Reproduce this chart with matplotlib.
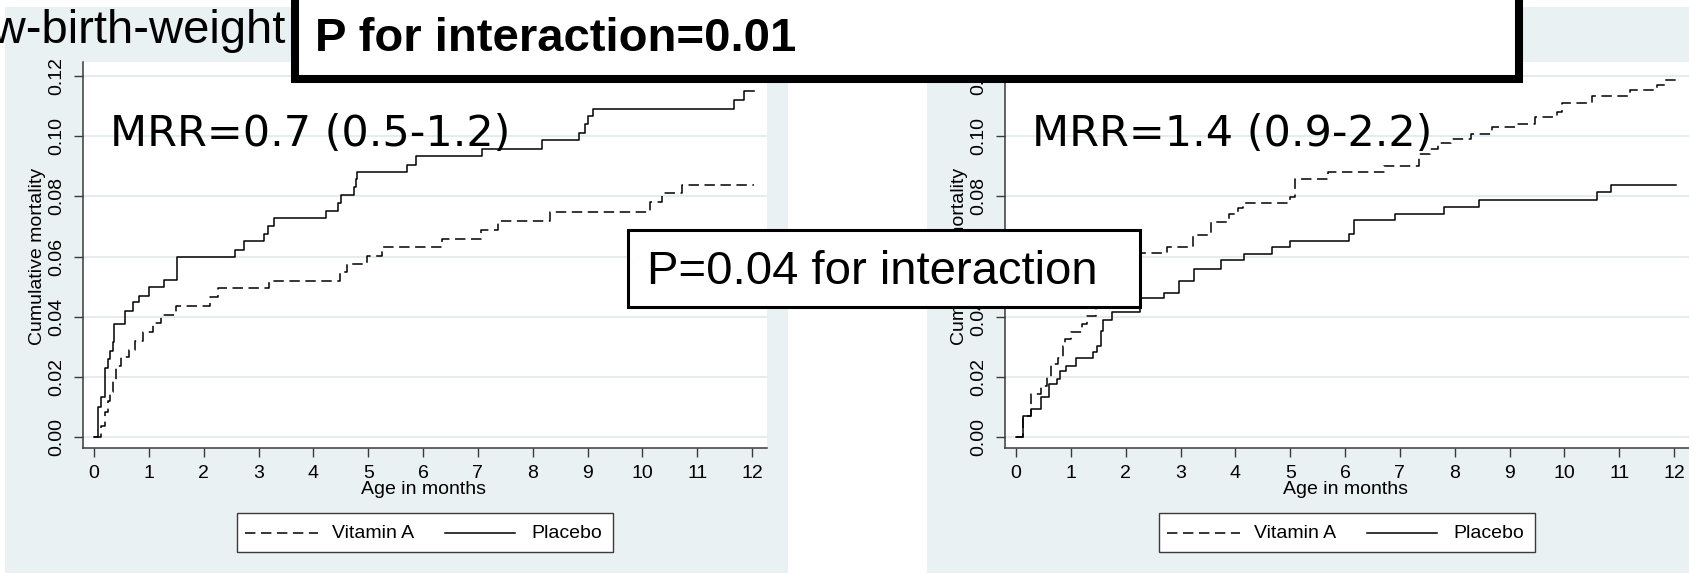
import matplotlib
matplotlib.use("Agg")
import matplotlib.pyplot as plt
from matplotlib.patches import Rectangle

plt.rcParams['font.family'] = ['Liberation Sans', 'DejaVu Sans']
plt.rcParams['lines.scale_dashes'] = False

W, H = 1690, 574

# Kaplan-Meier step data, age in months vs cumulative mortality
lbw_placebo_t = [0, 0.08, 0.13, 0.20, 0.25, 0.30, 0.34, 0.37, 0.56, 0.71, 0.82, 1.01, 1.28,
                 1.52, 2.58, 2.73, 3.10, 3.17, 3.28, 4.23, 4.45, 4.50, 4.74, 4.77, 4.80,
                 5.70, 5.88, 7.08, 8.16, 8.85, 8.95, 9.00, 9.10, 11.67, 11.85, 12.03]
lbw_placebo_y = [0, 0.0098, 0.0134, 0.023, 0.026, 0.0287, 0.0317, 0.0376, 0.042, 0.0448,
                 0.047, 0.050, 0.0522, 0.0598, 0.0623, 0.065, 0.0676, 0.0702, 0.0728,
                 0.0751, 0.0778, 0.0806, 0.083, 0.0857, 0.0881, 0.0906, 0.0933, 0.0958,
                 0.0987, 0.1012, 0.104, 0.1067, 0.1092, 0.112, 0.115, 0.115]

lbw_vita_t = [0, 0.13, 0.20, 0.25, 0.30, 0.35, 0.40, 0.49, 0.64, 0.74, 0.89, 1.08, 1.23,
              1.50, 2.11, 2.26, 3.20, 4.48, 4.62, 4.97, 5.26, 6.34, 7.06, 7.36, 8.31,
              10.13, 10.36, 10.72, 12.03]
lbw_vita_y = [0, 0.0037, 0.0083, 0.0118, 0.015, 0.019, 0.0237, 0.0267, 0.029, 0.032,
              0.035, 0.038, 0.0406, 0.0437, 0.0464, 0.0494, 0.0517, 0.0548, 0.0576,
              0.0603, 0.0631, 0.0659, 0.0689, 0.0718, 0.0748, 0.0781, 0.0811, 0.0839,
              0.0839]

nbw_vita_t = [0, 0.12, 0.27, 0.46, 0.56, 0.63, 0.76, 0.86, 0.89, 1.0, 1.2, 1.3, 1.45,
              1.55, 1.7, 1.85, 1.95, 2.05, 2.2, 2.75, 3.22, 3.56, 3.88, 4.04, 4.13, 4.99,
              5.09, 5.68, 6.71, 7.35, 7.55, 7.70, 7.94, 8.29, 8.68, 9.13, 9.47, 9.86,
              9.96, 10.50, 11.19, 11.68, 11.83, 12.03]
nbw_vita_y = [0, 0.007, 0.0142, 0.017, 0.0198, 0.0242, 0.0264, 0.0303, 0.0326, 0.0348,
              0.0376, 0.0403, 0.0435, 0.046, 0.049, 0.052, 0.055, 0.058, 0.0613, 0.0631,
              0.067, 0.0714, 0.0742, 0.0762, 0.0779, 0.0798, 0.0859, 0.0881, 0.0901,
              0.0942, 0.0959, 0.0976, 0.0992, 0.1009, 0.1031, 0.1042, 0.1064, 0.1081,
              0.1109, 0.1135, 0.1155, 0.117, 0.1187, 0.1187]

nbw_placebo_t = [0, 0.12, 0.27, 0.46, 0.61, 0.74, 0.81, 0.91, 1.10, 1.40, 1.48, 1.55,
                 1.59, 1.75, 2.26, 2.70, 2.97, 3.25, 3.74, 4.15, 4.67, 5.0, 6.07, 6.17,
                 6.91, 7.80, 8.44, 10.60, 10.85, 12.03]
nbw_placebo_y = [0, 0.007, 0.0092, 0.0133, 0.0176, 0.0192, 0.022, 0.0237, 0.0262, 0.0281,
                 0.0303, 0.0353, 0.039, 0.0415, 0.0462, 0.048, 0.052, 0.0559, 0.0587,
                 0.0609, 0.0631, 0.0653, 0.0676, 0.072, 0.0742, 0.0764, 0.0789, 0.0814,
                 0.0839, 0.0839]

series_labels = ["Vitamin A", "Placebo"]
mrr_labels = ["MRR=0.7 (0.5-1.2)", "MRR=1.4 (0.9-2.2)"]
title_left = "Low-birth-weight"
box_top_text = "P for interaction=0.01"
box_mid_text = "P=0.04 for interaction"
x_ticks = list(range(13))
y_ticks = [0.00, 0.02, 0.04, 0.06, 0.08, 0.10, 0.12]

BG = '#eaf1f3'
GRID = '#e2eaec'
AXC = '#3a3a3a'
DASH = (0, (7.5, 4))

fig = plt.figure(figsize=(W / 100, H / 100), dpi=100)

# pixel-space layers: one behind the plots, one in front
back = fig.add_axes([0, 0, 1, 1], zorder=-1)
front = fig.add_axes([0, 0, 1, 1], zorder=5)
for a in (back, front):
    a.set_xlim(0, W)
    a.set_ylim(H, 0)
    a.axis('off')
    a.patch.set_alpha(0)

back.add_patch(Rectangle((5, 7), 783, 566, facecolor=BG, edgecolor='none'))
back.add_patch(Rectangle((927, 7), 800, 566, facecolor=BG, edgecolor='none'))
back.text(286, 43, title_left, fontsize=34, ha='right', va='baseline')


def panel(x0, vita_t, vita_y, plac_t, plac_y, mrr):
    # plot region in pixels: y-axis line at x0, x-axis line at 448, top at 62
    ax = fig.add_axes([x0 / W, 1 - 448 / H, 684 / W, (448 - 62) / H])
    ax.set_facecolor('white')
    ax.step(vita_t, vita_y, where='post', color='black', lw=1.1, linestyle=DASH)
    ax.step(plac_t, plac_y, where='post', color='black', lw=1.1)
    ax.set_xlim(-0.2, 12.27)
    ax.set_ylim(-0.0037, 0.1247)
    ax.set_xticks(x_ticks)
    ax.set_xticklabels([str(v) for v in x_ticks])
    ax.set_yticks(y_ticks)
    ax.set_yticklabels(["%.2f" % v for v in y_ticks], rotation=90, va='center')
    ax.grid(axis='y', color=GRID, lw=1.3)
    ax.set_axisbelow(True)
    for s in ('top', 'right'):
        ax.spines[s].set_visible(False)
    for s in ('left', 'bottom'):
        ax.spines[s].set_color(AXC)
        ax.spines[s].set_linewidth(1.1)
    ax.tick_params(direction='out', length=6.5, width=1.0, color=AXC, labelsize=14, pad=6)

    back.text(x0 - 45, 256, "Cumulative mortality", fontsize=14, rotation=90,
              ha='center', va='center')
    back.text(x0 + 341, 490, "Age in months", fontsize=14, ha='center', va='center')

    # legend
    lx = x0 + 154
    back.add_patch(Rectangle((lx, 513), 376, 39, facecolor='white', edgecolor=AXC, lw=1.0))
    back.plot([lx + 8, lx + 81], [533, 533], color='black', lw=1.1, linestyle=DASH)
    back.text(lx + 95, 533, series_labels[0], fontsize=14, va='center')
    back.plot([lx + 208, lx + 278], [533, 533], color='black', lw=1.1)
    back.text(lx + 294, 533, series_labels[1], fontsize=14, va='center')

    front.text(x0 + 27, 146, mrr, fontsize=31, family='DejaVu Sans', va='baseline')
    return ax


panel(83, lbw_vita_t, lbw_vita_y, lbw_placebo_t, lbw_placebo_y, mrr_labels[0])
panel(1005, nbw_vita_t, nbw_vita_y, nbw_placebo_t, nbw_placebo_y, mrr_labels[1])

# annotation boxes on top
front.add_patch(Rectangle((295, -40), 1224, 119, facecolor='white', edgecolor='black', lw=5.8))
front.text(315, 51, box_top_text, fontsize=34, fontweight='bold', va='baseline')
front.add_patch(Rectangle((628.5, 229.5), 512, 77, facecolor='white', edgecolor='black', lw=2.2))
front.text(647, 284, box_mid_text, fontsize=34, va='baseline')

fig.savefig("out.png", dpi=100)
